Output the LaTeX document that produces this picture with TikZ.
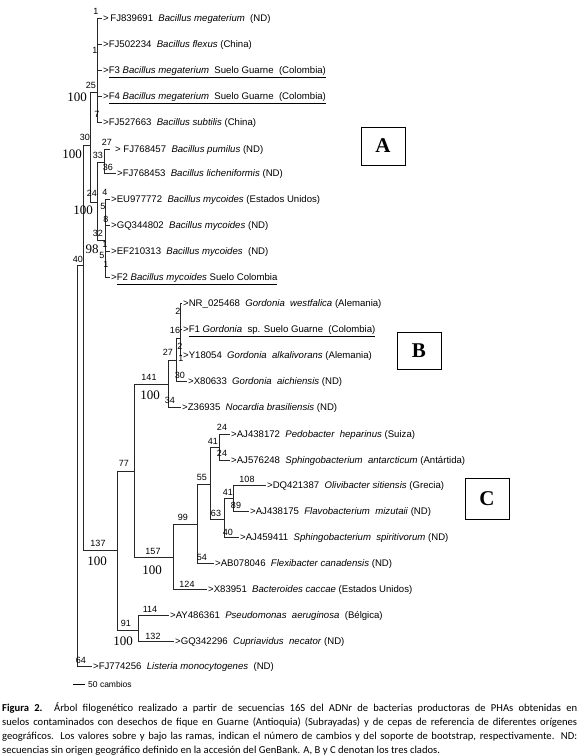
\documentclass[tikz,border=0pt]{standalone}
\usepackage{fontspec}
\setmainfont{Liberation Sans}
\newfontfamily\serifb{Liberation Serif}
\newfontfamily\capfont{Carlito}
\begin{document}
\begin{tikzpicture}[x=1pt,y=-1pt,
  br/.style={line width=0.9pt, draw=black!85},
  lf/.style={anchor=west, inner xsep=1pt, inner ysep=0pt, font=\fontsize{9.6}{11}\selectfont, text height=7pt, text depth=0pt},
  ch/.style={inner sep=0pt, font=\fontsize{9}{10}\selectfont},
  bs/.style={inner sep=0pt, font=\serifb\fontsize{13}{14}\selectfont},
  clade/.style={draw, line width=0.9pt, minimum width=44pt, inner sep=0pt, font=\serifb\bfseries\fontsize{21}{22}\selectfont},
  capl/.style={anchor=base west, inner sep=0pt, font=\capfont\fontsize{10.6}{12}\selectfont}]
\useasboundingbox (0,0) rectangle (579,756);
% internal nodes
\coordinate (R) at (77,265);
\coordinate (N83) at (83,265);
\coordinate (Q) at (90,145);
\coordinate (M) at (97,92);
\coordinate (P) at (97,202);
\coordinate (PL) at (104,162);
\coordinate (MY) at (105,240);
\coordinate (BC) at (117,550);
\coordinate (X) at (134,471);
\coordinate (B) at (168,384);
\coordinate (B1) at (176,360);
\coordinate (B2) at (180,338);
\coordinate (CB) at (173,557);
\coordinate (C55) at (197,524);
\coordinate (C41) at (210,484);
\coordinate (CP) at (219,447);
\coordinate (C63) at (224,519);
\coordinate (C89) at (233,498);
\coordinate (PC) at (138,630);
% leaves
\node[lf] (L1) at (102,18) {>\,FJ839691\ \ \textit{Bacillus megaterium}\ \ (ND)};
\node[lf] (L2) at (102,44) {>FJ502234\ \ \textit{Bacillus flexus} (China)};
\node[lf] (L3) at (102,70) {>\underline{F3 \textit{Bacillus megaterium}\ \ Suelo Guarne\ \ (Colombia)}};
\node[lf] (L4) at (102,96) {>\underline{F4 \textit{Bacillus megaterium}\ \ Suelo Guarne\ \ (Colombia)}};
\node[lf] (L5) at (102,122) {>FJ527663\ \ \textit{Bacillus subtilis} (China)};
\node[lf] (L6) at (110,149) {\hspace{4pt}> FJ768457\ \ \textit{Bacillus pumilus} (ND)};
\node[lf] (L7) at (116,173) {>FJ768453\ \ \textit{Bacillus licheniformis} (ND)};
\node[lf] (L8) at (110,199) {>EU977772\ \ \textit{Bacillus mycoides} (Estados Unidos)};
\node[lf] (L9) at (110,225) {>GQ344802\ \ \textit{Bacillus mycoides} (ND)};
\node[lf] (L10) at (110,251) {>EF210313\ \ \textit{Bacillus mycoides}\ \ (ND)};
\node[lf] (L11) at (110,277) {>\underline{F2 \textit{Bacillus mycoides} Suelo Colombia}};
\node[lf] (L12) at (182,303) {>NR\_025468\ \ \textit{Gordonia\ \ westfalica} (Alemania)};
\node[lf] (L13) at (182,329) {>\underline{F1 \textit{Gordonia}\ \ sp. Suelo Guarne\ \ (Colombia)}};
\node[lf] (L14) at (182,355) {>Y18054\ \ \textit{Gordonia\ \ alkalivorans} (Alemania)};
\node[lf] (L15) at (187,381) {>X80633\ \ \textit{Gordonia\ \ aichiensis} (ND)};
\node[lf] (L16) at (181,407) {>Z36935\ \ \textit{Nocardia brasiliensis} (ND)};
\node[lf] (L17) at (230,434) {>AJ438172\ \ \textit{Pedobacter\ \ heparinus} (Suiza)};
\node[lf] (L18) at (230,460) {>AJ576248\ \ \textit{Sphingobacterium\ \ antarcticum} (Antártida)};
\node[lf] (L19) at (266,485) {>DQ421387\ \ \textit{Olivibacter sitiensis} (Grecia)};
\node[lf] (L20) at (249,511) {>AJ438175\ \ \textit{Flavobacterium\ \ mizutaii} (ND)};
\node[lf] (L21) at (239,537) {>AJ459411\ \ \textit{Sphingobacterium\ \ spiritivorum} (ND)};
\node[lf] (L22) at (214,563) {>AB078046\ \ \textit{Flexibacter canadensis} (ND)};
\node[lf] (L23) at (207,589) {>X83951\ \ \textit{Bacteroides caccae} (Estados Unidos)};
\node[lf] (L24) at (169,615) {>AY486361\ \ \textit{Pseudomonas\ \ aeruginosa}\ \ (Bélgica)};
\node[lf] (L25) at (174,641) {>GQ342296\ \ \textit{Cupriavidus\ \ necator} (ND)};
\node[lf] (L26) at (92,666) {>FJ774256\ \ \textit{Listeria monocytogenes}\ \ (ND)};
% branches
\draw[br] (R) |- (N83);
\draw[br] (R) |- (L26.west);
\draw[br] (N83) |- (Q);
\draw[br] (N83) |- (BC);
\draw[br] (Q) |- (M);
\draw[br] (Q) |- (P);
\foreach \l in {L1,L2,L3,L4,L5} \draw[br] (M) |- (\l.west);
\draw[br] (P) |- (PL);
\draw[br] (P) |- (MY);
\draw[br] (PL) |- (L6.west);
\draw[br] (PL) |- (L7.west);
\foreach \l in {L8,L9,L10,L11} \draw[br] (MY) |- (\l.west);
\draw[br] (BC) |- (X);
\draw[br] (BC) |- (PC);
\draw[br] (X) |- (B);
\draw[br] (X) |- (CB);
\draw[br] (B) |- (B1);
\draw[br] (B) |- (L16.west);
\draw[br] (B1) |- (B2);
\draw[br] (B1) |- (L15.west);
\foreach \l in {L12,L13,L14} \draw[br] (B2) |- (\l.west);
\draw[br] (CB) |- (C55);
\draw[br] (CB) |- (L23.west);
\draw[br] (C55) |- (C41);
\draw[br] (C55) |- (L22.west);
\draw[br] (C41) |- (CP);
\draw[br] (C41) |- (C63);
\draw[br] (CP) |- (L17.west);
\draw[br] (CP) |- (L18.west);
\draw[br] (C63) |- (C89);
\draw[br] (C63) |- (L21.west);
\draw[br] (C89) |- (L19.west);
\draw[br] (C89) |- (L20.west);
\draw[br] (PC) |- (L24.west);
\draw[br] (PC) |- (L25.west);
% change counts
\node[ch] (k1) at (96,11) {1};
\node[ch] (k2) at (95,50) {1};
\node[ch] (k3) at (91,85) {25};
\node[ch] (k4) at (97,114) {7};
\node[ch] (k5) at (85,137) {30};
\node[ch] (k6) at (107,142) {27};
\node[ch] (k7) at (98,155) {33};
\node[ch] (k8) at (108,167) {36};
\node[ch] (k9) at (92,193) {24};
\node[ch] (k10) at (105,192) {4};
\node[ch] (k11) at (103,206) {5};
\node[ch] (k12) at (106,219) {8};
\node[ch] (k13) at (98,233) {32};
\node[ch] (k14) at (105,244) {1};
\node[ch] (k15) at (102,255) {5};
\node[ch] (k16) at (106,264) {1};
\node[ch] (k17) at (78,259) {40};
\node[ch] (k18) at (178,311) {2};
\node[ch] (k19) at (175,330) {16};
\node[ch] (k20) at (168,352) {27};
\node[ch] (k21) at (180,346) {2};
\node[ch] (k22) at (181,358) {1};
\node[ch] (k23) at (149,377) {141};
\node[ch] (k24) at (180,375) {30};
\node[ch] (k25) at (170,400) {34};
\node[ch] (k26) at (124,463) {77};
\node[ch] (k27) at (222,427) {24};
\node[ch] (k28) at (213,441) {41};
\node[ch] (k29) at (222,453) {24};
\node[ch] (k30) at (202,477) {55};
\node[ch] (k31) at (247,479) {108};
\node[ch] (k32) at (228,492) {41};
\node[ch] (k33) at (236,505) {89};
\node[ch] (k34) at (216,513) {63};
\node[ch] (k35) at (183,517) {99};
\node[ch] (k36) at (228,532) {40};
\node[ch] (k37) at (98,543) {137};
\node[ch] (k38) at (153,551) {157};
\node[ch] (k39) at (202,557) {54};
\node[ch] (k40) at (187,584) {124};
\node[ch] (k41) at (150,609) {114};
\node[ch] (k42) at (126,623) {91};
\node[ch] (k43) at (153,636) {132};
\node[ch] (k44) at (81,660) {64};
% bootstrap
\node[bs] (b1) at (77,97) {100};
\node[bs] (b2) at (72,154) {100};
\node[bs] (b3) at (83,210) {100};
\node[bs] (b4) at (92,249) {98};
\node[bs] (b5) at (150,395) {100};
\node[bs] (b6) at (97,561) {100};
\node[bs] (b7) at (152,570) {100};
\node[bs] (b8) at (123,641) {100};
% clade boxes
\node[clade, minimum height=38pt] (boxA) at (383,146) {A};
\node[clade, minimum height=37pt] (boxB) at (419,350.5) {B};
\node[clade, minimum height=41pt] (boxC) at (487,499) {C};
% scale bar
\coordinate (sb0) at (73,684);
\node[anchor=west, inner sep=0pt, font=\fontsize{8.5}{9}\selectfont] (sbt) at (88,684) {50 cambios};
\draw[line width=0.9pt] (sb0) -- ++(12,0) coordinate (sb1);
% caption
\node[capl] (cap1) at (2,711) {\hbox to 575pt{\textbf{Figura 2.} Árbol filogenético realizado a partir de secuencias 16S del ADNr de bacterias productoras de PHAs obtenidas en}};
\node[capl] (cap2) at (2,725.3) {\hbox to 575pt{suelos contaminados con desechos de fique en Guarne (Antioquia) (Subrayadas) y de cepas de referencia de diferentes orígenes}};
\node[capl] (cap3) at (2,739.6) {\hbox to 575pt{geográficos. Los valores sobre y bajo las ramas, indican el número de cambios y del soporte de bootstrap, respectivamente. ND:}};
\node[capl] (cap4) at (2,753.2) {secuencias sin origen geográfico definido en la accesión del GenBank. A, B y C denotan los tres clados.};
\end{tikzpicture}
\end{document}
